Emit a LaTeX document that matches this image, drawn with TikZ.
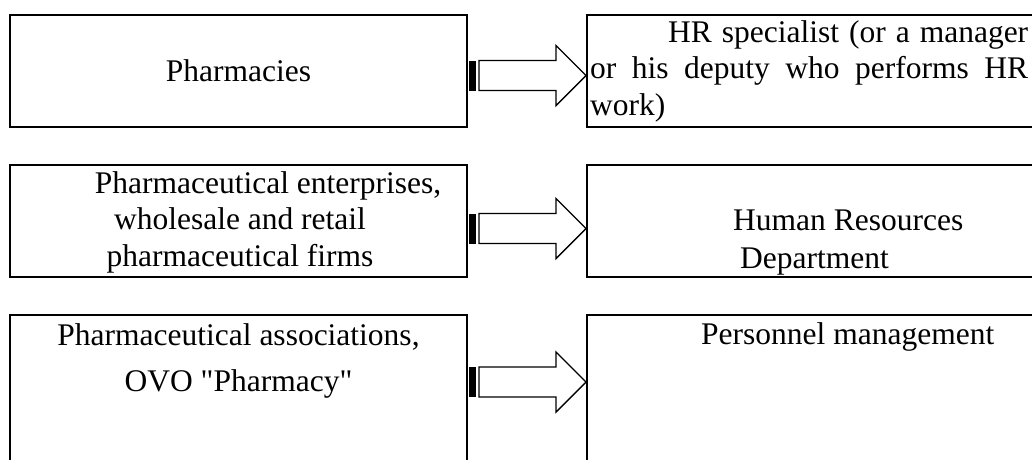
\documentclass[tikz,border=0pt]{standalone}
\usepackage{fontspec}
\setmainfont{Liberation Serif}
\usepackage{tikz}

\begin{document}
\begin{tikzpicture}[x=1pt, y=-1pt,
    box/.style={draw, line width=2pt, inner sep=0pt, minimum width=457pt, minimum height=112pt},
    wide/.style={box, minimum width=480pt},
    tall/.style={minimum height=180pt},
    txt/.style={inner sep=0pt, font=\fontsize{31.5}{36.5}\selectfont},
    hollowarrow/.pic={
        \draw[line width=1.4pt, line join=miter] (0,0) -- (-30,30) -- (-30,15) -- (-107,15)
            -- (-107,-15) -- (-30,-15) -- (-30,-30) -- cycle;
        \fill (-117,-15) rectangle (-110,15);
    }
]
\clip (0,0) rectangle (1032,459);

% left column
\node[box, txt] (l1) at (238.5,71) {Pharmacies};
\node[box] (l2) at (238.5,220.5) {};
\node[box, tall] (l3) at (238.5,405) {};

% right column
\node[wide] (r1) at (827,71) {};
\node[wide] (r2) at (827,220.5) {};
\node[wide, tall] (r3) at (827,405) {};

% texts (multi-line nodes sit on the baseline of their last line)
\node[txt, anchor=base, align=center] (l2text) at (240,266)
    {\hspace*{56pt}Pharmaceutical enterprises,\\ wholesale and retail\\ pharmaceutical firms};
\node[txt, anchor=base, align=center] (l3text) at (238.5,391)
    {Pharmaceutical associations,\\[9.5pt] OVO \textquotedbl Pharmacy\textquotedbl};
\node[txt, anchor=base west, text width=438pt, align=justify] (r1text) at (590,42)
    {\hspace*{78pt}HR specialist (or a manager\linebreak or his deputy who performs HR\linebreak work)};
\node[txt, anchor=base west, align=left] (r2text) at (733,268)
    {Human Resources\\[1.5pt]\hspace*{7pt}Department};
\node[txt, anchor=base west] (r3text) at (701,344) {Personnel management};

% arrows between the columns
\path (r1.west) ++(0,4.5) coordinate (tip1);
\path (r2.west) ++(0,8) coordinate (tip2);
\path (r3.west) ++(0,-23) coordinate (tip3);
\foreach \t in {tip1,tip2,tip3}
    \pic at (\t) {hollowarrow};
\end{tikzpicture}
\end{document}
